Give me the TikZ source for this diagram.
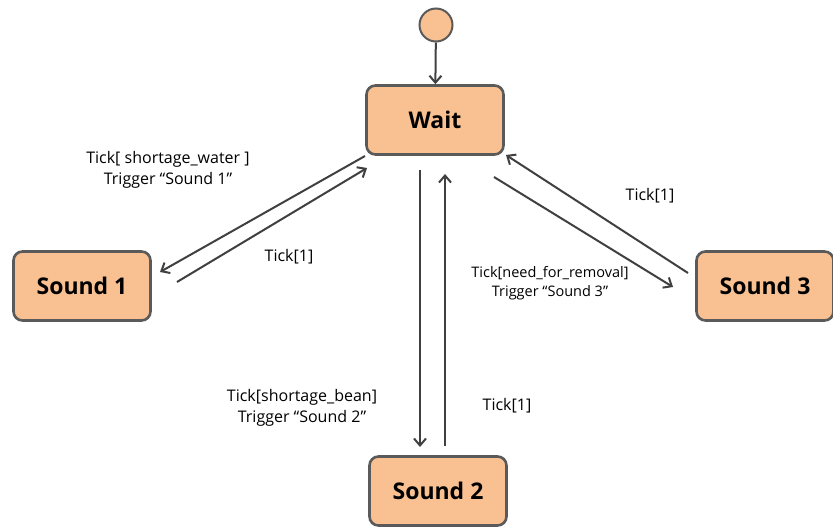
\documentclass[tikz,border=0pt]{standalone}
\usepackage{fontspec}
\setmainfont{Open Sans}
\usepackage{tikz}
\usetikzlibrary{arrows.meta}
\usetikzlibrary{positioning}
\definecolor{peach}{HTML}{F9C191}
\definecolor{rim}{HTML}{5A5A5A}
\definecolor{wire}{HTML}{404040}
\tikzstyle{state} = [rectangle, rounded corners=9pt, draw=rim, fill=peach, line width=2.6pt, minimum width=137pt, minimum height=69pt, font=\fontsize{23}{26}\selectfont\bfseries]
\tikzstyle{start} = [circle, draw=rim, fill=peach, line width=2pt, minimum size=33pt, inner sep=0pt]
\tikzstyle{trans} = [-{Straight Barb[length=7pt, width=12pt, line width=2pt]}, draw=wire, line width=2pt]
\tikzstyle{lbl} = [align=center, font=\fontsize{16}{21}\selectfont]

\begin{document}
\begin{tikzpicture}[x=1pt, y=-1pt]
\useasboundingbox (0,0) rectangle (833,528);
\node [start] (init) at (436, 25) {};
\node [state] (wait) at (435, 120) {Wait};
\node [state] (s1) at (82, 286) {Sound 1};
\node [state] (s2) at (438, 491) {Sound 2};
\node [state] (s3) at (765, 286) {Sound 3};
\coordinate (w1a) at (365, 156);
\coordinate (s1a) at (160, 272);
\coordinate (s1b) at (177, 282);
\coordinate (w1b) at (367, 168);
\coordinate (w2a) at (420, 170);
\coordinate (s2a) at (420, 447);
\coordinate (s2b) at (445, 446);
\coordinate (w2b) at (445, 174);
\coordinate (w3a) at (494, 177);
\coordinate (s3a) at (673, 287);
\coordinate (s3b) at (688, 273);
\coordinate (w3b) at (506, 155);
\draw [trans] (init) -- (wait);
\draw [trans] (w1a) -- (s1a);
\draw [trans] (s1b) -- (w1b);
\draw [trans] (w2a) -- (s2a);
\draw [trans] (s2b) -- (w2b);
\draw [trans] (w3a) -- (s3a);
\draw [trans] (s3b) -- (w3b);
\node [lbl] (t1) at (168, 170) {Tick[ shortage\_water ]\\Trigger “Sound 1”};
\node [lbl] (r1) at (289, 257) {Tick[1]};
\node [lbl] (t2) at (302, 408) {Tick[shortage\_bean]\\Trigger “Sound 2”};
\node [lbl] (r2) at (507, 406) {Tick[1]};
\node [lbl, font=\fontsize{14.5}{19}\selectfont] (t3) at (550, 283) {Tick[need\_for\_removal]\\Trigger “Sound 3”};
\node [lbl] (r3) at (650, 196) {Tick[1]};
\end{tikzpicture}
\end{document}
